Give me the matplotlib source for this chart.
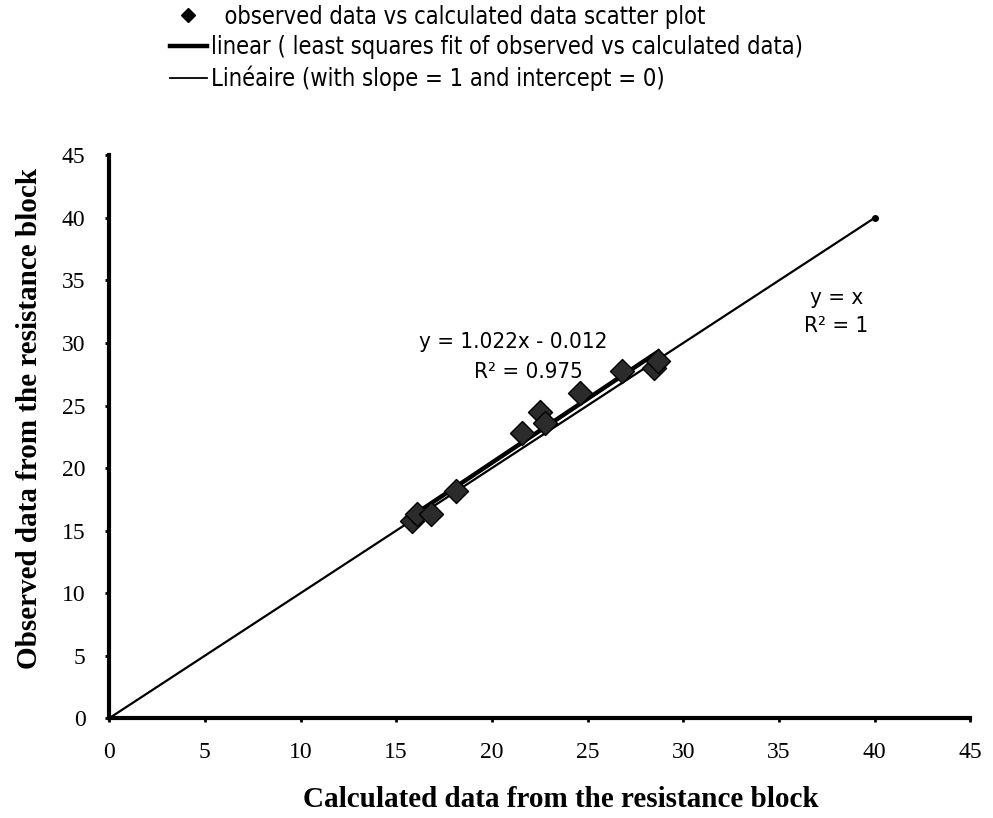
import matplotlib
matplotlib.use("Agg")
import matplotlib.pyplot as plt
from matplotlib.lines import Line2D

# calculated vs observed values
calculated = [15.8, 16.1, 16.8, 18.1, 21.6, 22.5, 22.8, 24.6, 26.8, 28.5, 28.7]
observed = [15.8, 16.3, 16.3, 18.2, 22.8, 24.5, 23.6, 26.0, 27.8, 28.0, 28.6]

# least squares fit reported on the chart
fit_slope = 1.022
fit_intercept = -0.012
fit_r2 = 0.975

# reference line y = x
ref_x = [0, 40]
ref_y = [0, 40]

xticks = [0, 5, 10, 15, 20, 25, 30, 35, 40, 45]
yticks = [0, 5, 10, 15, 20, 25, 30, 35, 40, 45]

serif = ["Liberation Serif", "DejaVu Serif"]
cond = {"family": "DejaVu Sans", "stretch": "condensed"}

fig = plt.figure(figsize=(9.93, 8.18), dpi=100)
ax = fig.add_axes([0.110, 0.122, 0.867, 0.688])

# y = x line with end dot
ax.plot(ref_x, ref_y, color="black", lw=1.6, zorder=2)
ax.plot([ref_x[-1]], [ref_y[-1]], marker="o", ms=4, color="black", zorder=2)

# fitted line across the data range
x0, x1 = min(calculated), max(calculated)
ax.plot([x0, x1], [fit_slope * x0 + fit_intercept, fit_slope * x1 + fit_intercept],
        color="black", lw=3.2, zorder=3)

ax.scatter(calculated, observed, marker="D", s=150, color="#2b2b2b",
           edgecolors="black", linewidths=1.0, zorder=4)

ax.set_xlim(0, 45)
ax.set_ylim(0, 45)
ax.set_xticks(xticks)
ax.set_yticks(yticks)
ax.spines["top"].set_visible(False)
ax.spines["right"].set_visible(False)
ax.spines["left"].set_linewidth(3)
ax.spines["bottom"].set_linewidth(3)
ax.tick_params(axis="both", length=3, width=2, direction="out", pad=14)
for lbl in ax.get_xticklabels() + ax.get_yticklabels():
    lbl.set_fontfamily(serif)
    lbl.set_fontsize(17)

ax.set_xlabel("Calculated data from the resistance block", fontfamily=serif,
              fontweight="bold", fontsize=21, labelpad=17)
ax.set_ylabel("Observed data from the resistance block", fontfamily=serif,
              fontweight="bold", fontsize=21, labelpad=14)
ax.xaxis.label.set_x(0.524)
ax.yaxis.label.set_y(0.533)

ax.text(21.1, 30.1, "y = %.3fx - %.3f" % (fit_slope, abs(fit_intercept)),
        ha="center", va="center", fontsize=16, **cond)
ax.text(21.9, 27.7, "R² = %.3f" % fit_r2, ha="center", va="center",
        fontsize=16, **cond)
ax.text(38.0, 33.6, "y = x", ha="center", va="center", fontsize=16, **cond)
ax.text(38.0, 31.4, "R² = 1", ha="center", va="center", fontsize=16, **cond)

handles = [
    Line2D([], [], marker="D", ls="none", color="black", ms=7),
    Line2D([], [], color="black", lw=3.2),
    Line2D([], [], color="black", lw=1.3),
]
labels = [
    "  observed data vs calculated data scatter plot",
    "linear ( least squares fit of observed vs calculated data)",
    "Linéaire (with slope = 1 and intercept = 0)",
]
fig.legend(handles, labels, loc="upper left", bbox_to_anchor=(0.166, 1.0),
           frameon=False, borderpad=0.2, borderaxespad=0.0,
           handlelength=1.6, handletextpad=0.15, labelspacing=0.27,
           prop={"family": "DejaVu Sans", "stretch": "condensed", "size": 17})

fig.savefig("out.png", dpi=100)
